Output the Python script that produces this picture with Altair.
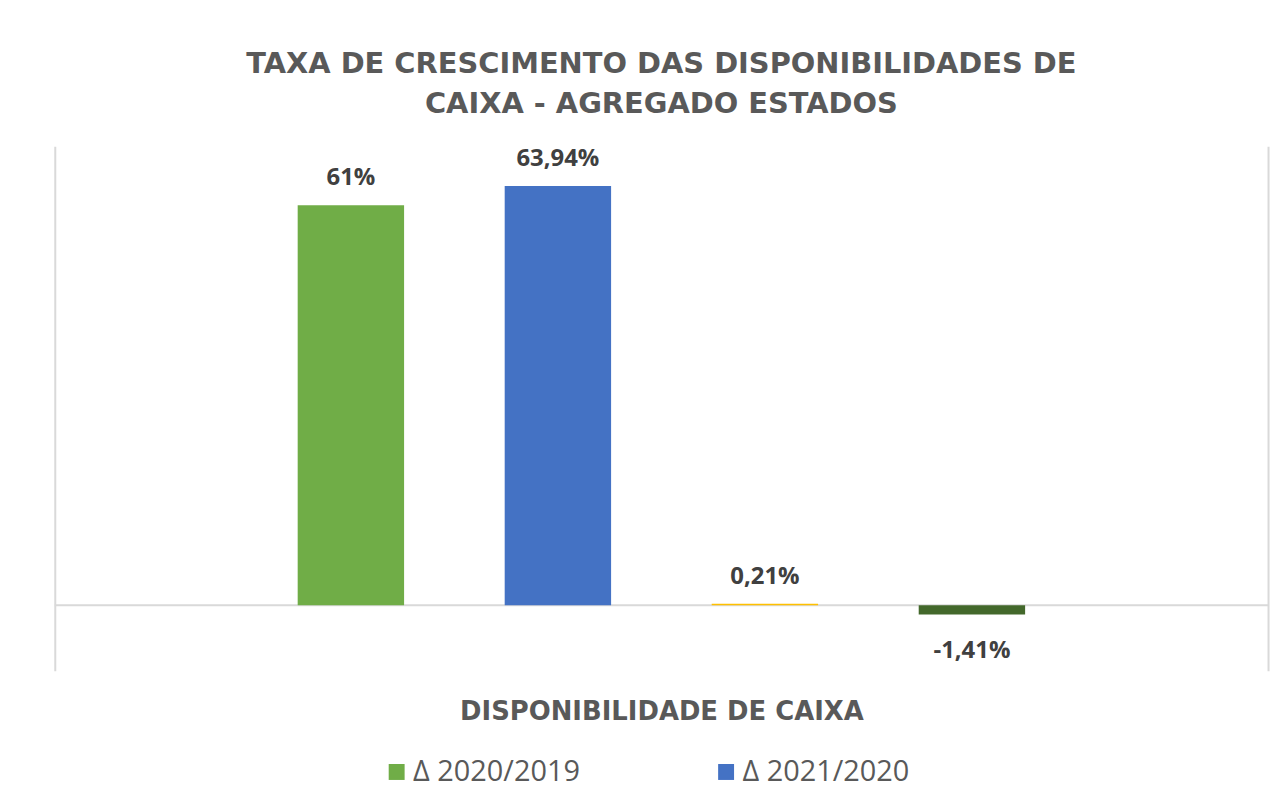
import altair as alt
import pandas as pd

category = ["DISPONIBILIDADE DE CAIXA"] * 4
series = ["Δ 2020/2019", "Δ 2021/2020", "Δ 2022/2021", "Δ 2023/2022"]
values = [61.0, 63.94, 0.21, -1.41]
labels = ["61%", "63,94%", "0,21%", "-1,41%"]
colors = ["#70AD47", "#4472C4", "#FFC000", "#43682B"]
legend_shown = ["Δ 2020/2019", "Δ 2021/2020"]
zero_line = [0]

df = pd.DataFrame({"grupo": category, "serie": series, "valor": values, "rotulo": labels})
zdf = pd.DataFrame({"zero": zero_line})

y_scale = alt.Scale(domain=[-10, 70], nice=False)
x_scale = alt.Scale(paddingInner=0, paddingOuter=0.2326)
off_scale = alt.Scale(paddingInner=0.486, paddingOuter=0.243)

x_enc = alt.X(
    "grupo:N",
    scale=x_scale,
    axis=alt.Axis(
        labels=False, ticks=False, domain=False, grid=False,
        title="DISPONIBILIDADE DE CAIXA",
        titleFont="DejaVu Sans", titleFontSize=26, titleFontWeight="bold",
        titleColor="#595959", titlePadding=28,
    ),
)
off_enc = alt.XOffset("serie:N", sort=series, scale=off_scale)

zero_rule = alt.Chart(zdf).mark_rule(color="#D9D9D9", strokeWidth=2).encode(
    y=alt.Y(
        "zero:Q", scale=y_scale,
        axis=alt.Axis(orient="right", labels=False, ticks=False, grid=False,
                      domain=True, domainColor="#D9D9D9", domainWidth=2, title=None),
    ),
)

bars = alt.Chart(df).mark_bar().encode(
    x=x_enc,
    xOffset=off_enc,
    y=alt.Y(
        "valor:Q", scale=y_scale,
        axis=alt.Axis(orient="left", labels=False, ticks=False, grid=False,
                      domain=True, domainColor="#D9D9D9", domainWidth=2, title=None),
    ),
    color=alt.Color(
        "serie:N", sort=series,
        scale=alt.Scale(domain=series, range=colors),
        legend=alt.Legend(
            values=legend_shown, orient="none", legendX=329, legendY=614,
            direction="horizontal", title=None, symbolType="square",
            symbolSize=256, symbolStrokeWidth=0, labelFont="Open Sans",
            labelFontSize=29, labelColor="#595959", columnPadding=132,
            labelOffset=2, labelLimit=400, padding=0,
        ),
    ),
)

text_style = dict(font="Open Sans", fontWeight="bold", fontSize=24, color="#404040",
                  align="center", baseline="alphabetic")

pos_text = alt.Chart(df).transform_filter("datum.valor >= 0").mark_text(
    dy=-20, **text_style
).encode(
    x=x_enc,
    xOffset=off_enc,
    y=alt.Y("valor:Q", scale=y_scale, axis=None),
    text="rotulo:N",
)

neg_text = alt.Chart(df).transform_filter("datum.valor < 0").mark_text(
    dy=44, **text_style
).encode(
    x=x_enc,
    xOffset=off_enc,
    y=alt.Y("valor:Q", scale=y_scale, axis=None),
    text="rotulo:N",
)

chart = (
    alt.layer(zero_rule, bars, pos_text, neg_text)
    .resolve_axis(y="independent")
    .properties(
        width=1219, height=527,
        padding={"left": 47, "top": 137, "right": 5, "bottom": 120},
        autosize="none",
        background="white",
        title=alt.Title(
            ["TAXA DE CRESCIMENTO DAS DISPONIBILIDADES DE", "CAIXA - AGREGADO ESTADOS"],
            font="DejaVu Sans", fontSize=29, fontWeight="bold", color="#595959",
            lineHeight=41, offset=27, anchor="middle",
        ),
    )
    .configure_view(stroke=None)
)

chart.save("out.html", embed_options={"renderer": "svg", "actions": False})
